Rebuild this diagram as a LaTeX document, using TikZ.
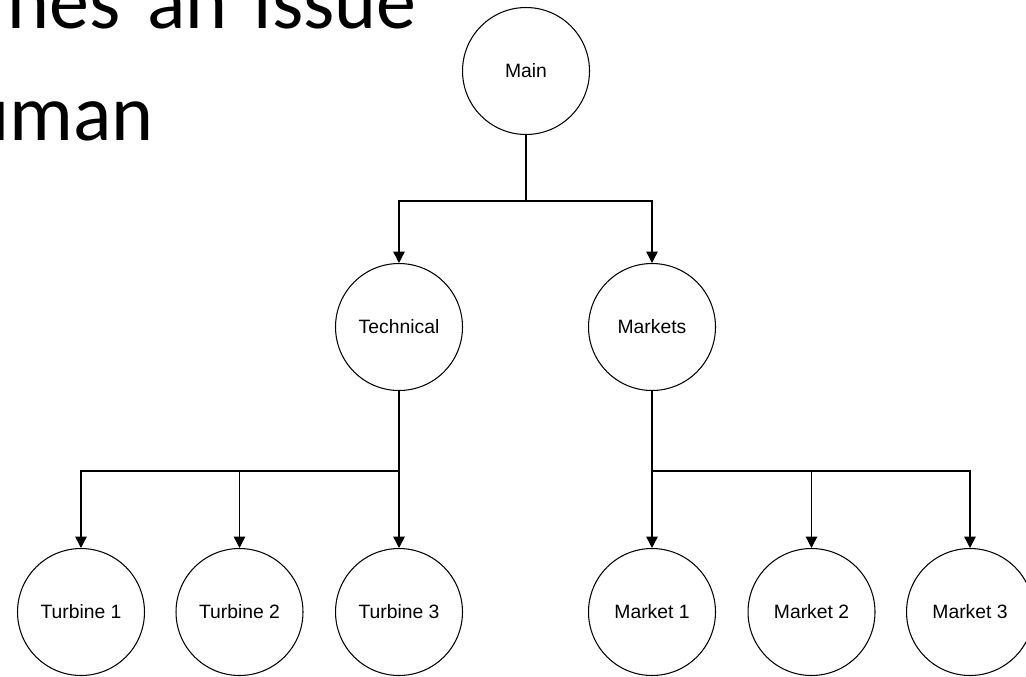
\documentclass[tikz,border=0pt]{standalone}
\usepackage{fontspec}
\setmainfont{Liberation Sans}
\newfontfamily\slidefont{Carlito}
\usetikzlibrary{arrows.meta,positioning}
\tikzset{
  topic/.style={draw,circle,line width=.6pt,minimum size=2.54cm,inner sep=0pt,
    font=\fontsize{11}{13}\selectfont},
  link/.style={-{Triangle[length=6.5pt,width=6.5pt]},line width=.85pt},
  slide/.style={anchor=base east,inner sep=0pt,
    font=\slidefont\fontsize{45.5}{55}\selectfont}
}
\begin{document}
\begin{tikzpicture}[x=.02cm,y=-.02cm,line cap=butt]
 \useasboundingbox[fill=white] (0,0) rectangle (1026,676);
 \node[slide] (line1) at (417,29) {\spaceskip=.33em nes an issue};
 \node[slide] (line2) at (154,140) {uman};
 \node[topic] (main) at (526,71) {Main};
 \node[topic] (tech) at (399,327) {Technical};
 \node[topic] (mkts) at (652,327) {Markets};
 \node[topic] (tur1) at (81,612) {Turbine 1};
 \node[topic] (tur2) at (239.5,612) {Turbine 2};
 \node[topic] (tur3) at (399,612) {Turbine 3};
 \node[topic] (mkt1) at (652,612) {Market 1};
 \node[topic] (mkt2) at (811.5,612) {Market 2};
 \node[topic] (mkt3) at (970,612) {Market 3};
 \coordinate (jmain) at (526,201);
 \coordinate (jtech) at (399,471);
 \coordinate (jmkts) at (652,471);
 % main to the two branches
 \draw[line width=.85pt] (main.south) -- (jmain);
 \draw[link] (jmain) -| (tech.north);
 \draw[link] (jmain) -| (mkts.north);
 % technical branch
 \draw[link] (tech.south) -- (tur3.north);
 \draw[link] (jtech) -| (tur1.north);
 \draw[link] (tur2.north |- jtech) -- (tur2.north);
 % markets branch
 \draw[link] (mkts.south) -- (mkt1.north);
 \draw[link] (jmkts) -| (mkt3.north);
 \draw[link] (mkt2.north |- jmkts) -- (mkt2.north);
\end{tikzpicture}
\end{document}
